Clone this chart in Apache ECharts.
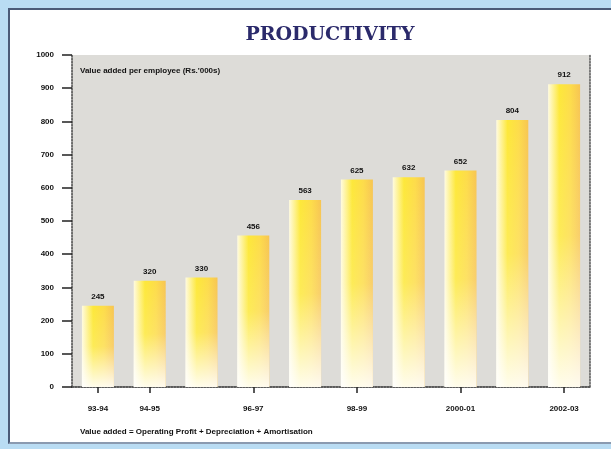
<!DOCTYPE html>
<html>
<head>
<meta charset="utf-8">
<script src="https://cdn.jsdelivr.net/npm/echarts@6/dist/echarts.min.js"></script>
<style>
html,body{margin:0;padding:0;width:611px;height:449px;overflow:hidden;background:#b9dcf3;}
#panel{position:absolute;left:8px;top:8px;width:603px;height:436px;background:#fff;border-left:2px solid #4a5a78;border-top:2px solid #4a5a78;border-bottom:2px solid #8a9ab0;box-sizing:border-box;}
#chart{position:absolute;left:0;top:0;width:611px;height:449px;}
</style>
</head>
<body>
<div id="panel"></div>
<div id="chart"></div>
<script>
var categories = ['93-94','94-95','95-96','96-97','97-98','98-99','99-2000','2000-01','2001-02','2002-03'];
var values = [245, 320, 330, 456, 563, 625, 632, 652, 804, 912];
var yTicks = [0,100,200,300,400,500,600,700,800,900,1000];
var shownLabels = [0,1,3,5,7,9];
var titleText = 'PRODUCTIVITY';
var unitText = "Value added per employee (Rs.'000s)";
var noteText = 'Value added = Operating Profit + Depreciation + Amortisation';

var chart = echarts.init(document.getElementById('chart'));
var hGrad = new echarts.graphic.LinearGradient(0,0,1,0,[
  {offset:0,color:'#fffbe0'},
  {offset:0.35,color:'#fde83a'},
  {offset:0.7,color:'#fddc4a'},
  {offset:1,color:'#f7c552'}
]);
var vFade = new echarts.graphic.LinearGradient(0,0,0,1,[
  {offset:0,color:'rgba(255,255,255,0)'},
  {offset:0.5,color:'rgba(255,255,255,0.15)'},
  {offset:1,color:'rgba(255,255,255,0.9)'}
]);
var labelFont = {fontFamily:'Liberation Sans',fontWeight:'bold',fontSize:8,color:'#111'};
chart.setOption({
  animation:false,
  title:{text:titleText,left:325,top:21,textAlign:'center',
    textStyle:{fontFamily:'DejaVu Serif',fontWeight:'bold',fontSize:19,color:'#2b2a6b'}},
  graphic:[
    {type:'text',left:80,top:67,style:{text:unitText,font:'bold 8px "Liberation Sans"',fill:'#111'}},
    {type:'text',left:80,top:428,style:{text:noteText,font:'bold 8px "Liberation Sans"',fill:'#111'}}
  ],
  grid:{left:72,right:21,top:55,bottom:62,show:true,backgroundColor:'#dddcd8',borderWidth:0},
  xAxis:[{
    type:'category',data:categories,boundaryGap:true,
    axisLine:{show:true,lineStyle:{color:'#444',type:'dotted',width:1.5}},
    axisTick:{show:true,alignWithLabel:true,inside:false,length:6,lineStyle:{color:'#222',width:1.5}},
    axisLabel:{interval:function(i){return shownLabels.indexOf(i)>=0;},margin:18,
      fontFamily:'Liberation Sans',fontWeight:'bold',fontSize:8,color:'#111'}
  },{
    type:'category',data:categories,position:'top',
    axisLine:{show:true,lineStyle:{color:'#555',type:'dotted',width:1.5}},
    axisTick:{show:false},axisLabel:{show:false}
  }],
  yAxis:[{
    type:'value',min:0,max:1000,interval:100,
    axisLine:{show:true,lineStyle:{color:'#444',type:'dotted',width:1.5}},
    axisTick:{show:true,length:10,lineStyle:{color:'#222',width:1.5}},
    splitLine:{show:false},
    axisLabel:{margin:18,fontFamily:'Liberation Sans',fontWeight:'bold',fontSize:8,color:'#111',
      formatter:function(v){return yTicks.indexOf(v)>=0?String(v):'';}}
  },{
    type:'value',min:0,max:1000,interval:100,position:'right',
    axisLine:{show:true,lineStyle:{color:'#555',type:'dotted',width:1.5}},
    axisTick:{show:false},axisLabel:{show:false},splitLine:{show:false}
  }],
  series:[{
    type:'bar',data:values,barWidth:32,
    itemStyle:{color:hGrad},
    label:Object.assign({show:true,position:'top',distance:5},labelFont)
  },{
    type:'bar',data:values,barWidth:32,barGap:'-100%',silent:true,
    itemStyle:{color:vFade}
  }]
});
</script>
</body>
</html>
